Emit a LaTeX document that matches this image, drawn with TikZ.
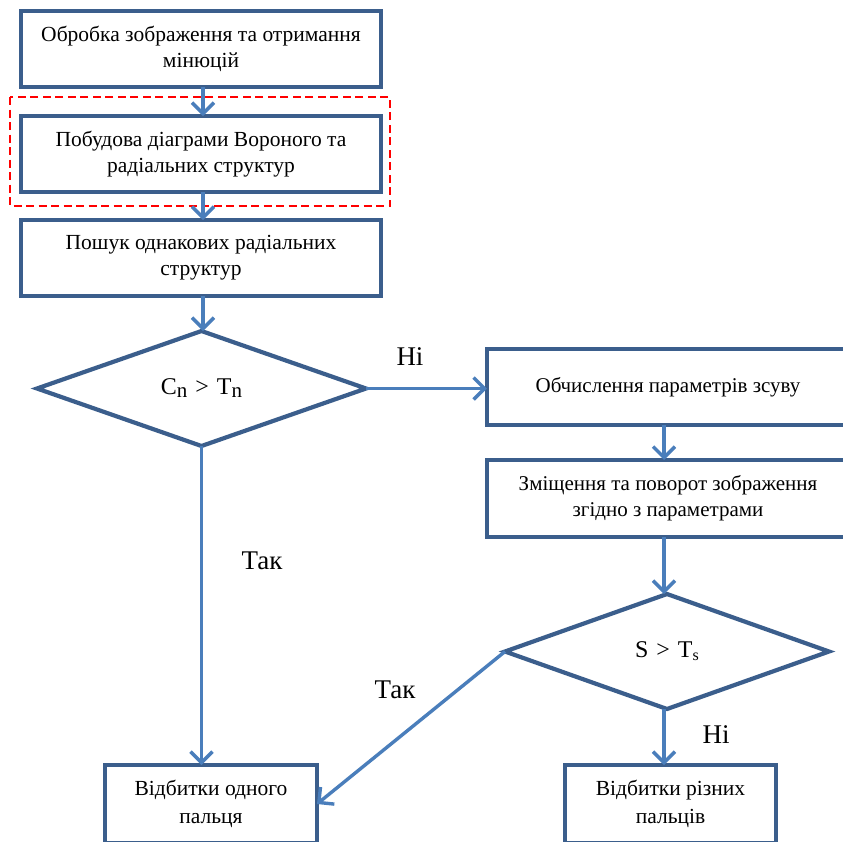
\documentclass[tikz,border=0pt]{standalone}
\usepackage{fontspec}
\setmainfont{Liberation Serif}
\usetikzlibrary{shapes.geometric,arrows.meta}
\definecolor{boxline}{HTML}{3B5E8C}
\definecolor{arrowc}{HTML}{4A7EBB}
\newcommand{\lowsub}[2]{\raisebox{-3pt}{\fontsize{#1}{22}\selectfont #2}}
\tikzset{
  box/.style={draw=boxline, line width=4.2pt, rectangle, inner sep=0pt, outer sep=0pt, align=center, fill=white},
  dia/.style={draw=boxline, line width=4.2pt, diamond, inner sep=0pt, outer sep=0pt, fill=white},
  flow/.style={draw=arrowc, line width=3.4pt, -{Straight Barb[length=11pt,width=22pt,line width=3.4pt]}},
  lbl/.style={font=\fontsize{27}{28}\selectfont, inner sep=0pt},
  bigtxt/.style={font=\fontsize{21.5}{26}\selectfont},
  midtxt/.style={font=\fontsize{21}{26}\selectfont},
  smltxt/.style={font=\fontsize{21.5}{28}\selectfont},
}
\begin{document}
\begin{tikzpicture}[x=1pt,y=-1pt]
\useasboundingbox (0,0) rectangle (843,841);
\clip (0,0) rectangle (843,841);
\fill[white] (0,0) rectangle (843,841);
\draw[red, line width=2.6pt, dash pattern=on 8pt off 4.5pt] (10,97) rectangle (390,206);
\node[box, bigtxt, minimum width=360, minimum height=76] (b1) at (201,49) {Обробка зображення та отримання\\мінюцій};
\node[box, bigtxt, minimum width=360, minimum height=76] (b2) at (201,154) {Побудова діаграми Вороного та\\радіальних структур};
\node[box, bigtxt, minimum width=360, minimum height=76] (b3) at (201,258) {Пошук однакових радіальних\\структур};
\node[dia, minimum width=329, minimum height=115, font=\fontsize{24}{26}\selectfont] (d1) at (201.5,388.5) {C\lowsub{21}{n}\,\,>\,\,T\lowsub{21}{n}};
\node[box, midtxt, minimum width=362, minimum height=76] (b4) at (668,387) {\raisebox{3pt}{Обчислення параметрів зсуву}};
\node[box, midtxt, minimum width=362, minimum height=77] (b5) at (668,498.5) {Зміщення та поворот зображення\\згідно з параметрами};
\node[dia, minimum width=324, minimum height=115, font=\fontsize{24}{26}\selectfont] (d2) at (667,651.5) {S\,\,>\,\,T\lowsub{16}{s}};
\node[box, smltxt, minimum width=212, minimum height=78] (b6) at (211,804) {Відбитки одного\\пальця};
\node[box, smltxt, minimum width=211, minimum height=78] (b7) at (670.5,804) {Відбитки різних\\пальців};
\draw[flow] (b1.south -| 203,0) -- (b2.north -| 203,0);
\draw[flow] (b2.south -| 203,0) -- (b3.north -| 203,0);
\draw[flow] (b3.south -| 203,0) -- (d1.north -| 203,0);
\draw[flow] (d1.east) -- (b4.west |- d1.east);
\draw[flow] (d1.south) -- (b6.north -| d1.south);
\draw[flow] (b4.south -| 664,0) -- (b5.north -| 664,0);
\draw[flow] (b5.south -| 664,0) -- (d2.north -| 664,0);
\draw[flow] (d2.west) -- (b6.east);
\draw[flow] (d2.south -| 664,0) -- (b7.north -| 664,0);
\node[lbl] (l1) at (410,357) {Ні};
\node[lbl] (l2) at (262,561) {Так};
\node[lbl] (l3) at (395,690) {Так};
\node[lbl] (l4) at (716,735) {Ні};
\end{tikzpicture}
\end{document}
